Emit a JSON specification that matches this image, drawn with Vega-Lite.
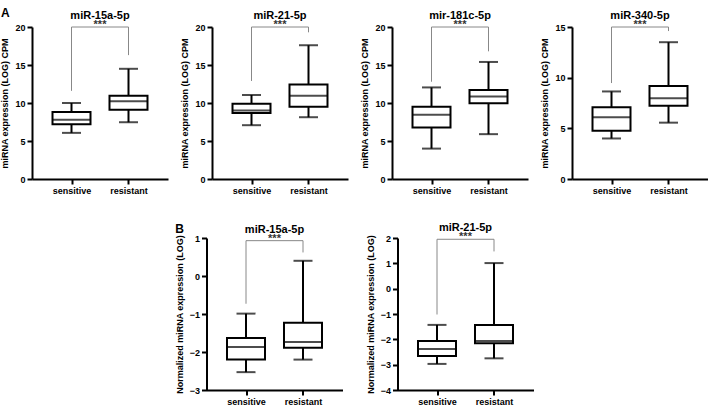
{
"$schema":"https://vega.github.io/schema/vega-lite/v6.json",
"padding":{"left":0,"top":7,"right":0,"bottom":2},
"datasets":{
"boxes":[
{"panel":"A1","group":"sensitive","min":6.07,"q1":7.2,"median":7.8,"q3":8.8,"max":10.0},
{"panel":"A1","group":"resistant","min":7.47,"q1":9.1,"median":10.24,"q3":10.95,"max":14.5},
{"panel":"A2","group":"sensitive","min":7.08,"q1":8.7,"median":9.0,"q3":9.9,"max":11.05},
{"panel":"A2","group":"resistant","min":8.13,"q1":9.5,"median":10.95,"q3":12.44,"max":17.6},
{"panel":"A3","group":"sensitive","min":4.0,"q1":6.77,"median":8.47,"q3":9.5,"max":12.05},
{"panel":"A3","group":"resistant","min":5.9,"q1":9.96,"median":10.87,"q3":11.7,"max":15.4},
{"panel":"A4","group":"sensitive","min":4.0,"q1":4.77,"median":6.09,"q3":7.09,"max":8.64},
{"panel":"A4","group":"resistant","min":5.56,"q1":7.22,"median":7.98,"q3":9.17,"max":13.5},
{"panel":"B1","group":"sensitive","min":-2.53,"q1":-2.2,"median":-1.87,"q3":-1.63,"max":-0.99},
{"panel":"B1","group":"resistant","min":-2.2,"q1":-1.89,"median":-1.74,"q3":-1.23,"max":0.4},
{"panel":"B2","group":"sensitive","min":-2.97,"q1":-2.66,"median":-2.38,"q3":-2.07,"max":-1.43},
{"panel":"B2","group":"resistant","min":-2.75,"q1":-2.15,"median":-2.07,"q3":-1.43,"max":1.01}
],
"brackets":[
{"panel":"A1","group":"sensitive","value":11.6,"step":1},{"panel":"A1","group":"sensitive","value":20,"step":2},{"panel":"A1","group":"resistant","value":20,"step":3},{"panel":"A1","group":"resistant","value":16.3,"step":4},
{"panel":"A2","group":"sensitive","value":12.9,"step":1},{"panel":"A2","group":"sensitive","value":20,"step":2},{"panel":"A2","group":"resistant","value":20,"step":3},{"panel":"A2","group":"resistant","value":19.3,"step":4},
{"panel":"A3","group":"sensitive","value":12.8,"step":1},{"panel":"A3","group":"sensitive","value":20,"step":2},{"panel":"A3","group":"resistant","value":20,"step":3},{"panel":"A3","group":"resistant","value":16.8,"step":4},
{"panel":"A4","group":"sensitive","value":9.47,"step":1},{"panel":"A4","group":"sensitive","value":15,"step":2},{"panel":"A4","group":"resistant","value":15,"step":3},{"panel":"A4","group":"resistant","value":14.6,"step":4},
{"panel":"B1","group":"sensitive","value":-0.73,"step":1},{"panel":"B1","group":"sensitive","value":0.93,"step":2},{"panel":"B1","group":"resistant","value":0.93,"step":3},{"panel":"B1","group":"resistant","value":0.62,"step":4},
{"panel":"B2","group":"sensitive","value":-1.02,"step":1},{"panel":"B2","group":"sensitive","value":1.95,"step":2},{"panel":"B2","group":"resistant","value":1.95,"step":3},{"panel":"B2","group":"resistant","value":1.47,"step":4}
],
"sig":[
{"panel":"A1","y":20,"label":"***"},{"panel":"A2","y":20,"label":"***"},{"panel":"A3","y":20,"label":"***"},{"panel":"A4","y":15,"label":"***"},{"panel":"B1","y":0.93,"label":"***"},{"panel":"B2","y":1.95,"label":"***"}
]
},
"vconcat":[
{"title":{"text":"A","anchor":"start","frame":"bounds","fontSize":12,"offset":-10},
"spacing":12,
"hconcat":[
{"width":136,"height":152,"title":"miR-15a-5p","layer":[
{"data":{"name":"boxes"},"transform":[{"filter":"datum.panel==='A1'"}],"mark":{"type":"rule","color":"black","strokeWidth":2},"encoding":{"x":{"field":"group","type":"nominal","sort":["sensitive","resistant"],"scale":{"type":"point","padding":0.693},"axis":{"title":null,"labelAngle":0}},"y":{"field":"min","type":"quantitative","scale":{"domain":[0,20],"nice":false},"axis":{"values":[0,5,10,15,20],"tickCount":10,"format":"d","title":"miRNA expression (LOG) CPM"}},"y2":{"field":"max"}}},
{"data":{"name":"boxes"},"transform":[{"filter":"datum.panel==='A1'"}],"mark":{"type":"tick","color":"black","thickness":2,"size":19},"encoding":{"x":{"field":"group","type":"nominal","sort":["sensitive","resistant"]},"y":{"field":"min","type":"quantitative"}}},
{"data":{"name":"boxes"},"transform":[{"filter":"datum.panel==='A1'"}],"mark":{"type":"tick","color":"black","thickness":2,"size":19},"encoding":{"x":{"field":"group","type":"nominal","sort":["sensitive","resistant"]},"y":{"field":"max","type":"quantitative"}}},
{"data":{"name":"boxes"},"transform":[{"filter":"datum.panel==='A1'"}],"mark":{"type":"bar","fill":"white","stroke":"black","strokeWidth":2,"size":38},"encoding":{"x":{"field":"group","type":"nominal","sort":["sensitive","resistant"]},"y":{"field":"q1","type":"quantitative"},"y2":{"field":"q3"}}},
{"data":{"name":"boxes"},"transform":[{"filter":"datum.panel==='A1'"}],"mark":{"type":"tick","color":"black","thickness":2,"size":38},"encoding":{"x":{"field":"group","type":"nominal","sort":["sensitive","resistant"]},"y":{"field":"median","type":"quantitative"}}},
{"data":{"name":"brackets"},"transform":[{"filter":"datum.panel==='A1'"}],"mark":{"type":"line","color":"#888888","strokeWidth":1},"encoding":{"x":{"field":"group","type":"nominal","sort":["sensitive","resistant"]},"y":{"field":"value","type":"quantitative"},"order":{"field":"step"}}},
{"data":{"name":"sig"},"transform":[{"filter":"datum.panel==='A1'"}],"mark":{"type":"text","baseline":"alphabetic","dy":1,"fontSize":11,"fontWeight":"bold","color":"#333333"},"encoding":{"y":{"field":"y","type":"quantitative"},"text":{"field":"label"}}}
]},
{"width":136,"height":152,"title":"miR-21-5p","layer":[
{"data":{"name":"boxes"},"transform":[{"filter":"datum.panel==='A2'"}],"mark":{"type":"rule","color":"black","strokeWidth":2},"encoding":{"x":{"field":"group","type":"nominal","sort":["sensitive","resistant"],"scale":{"type":"point","padding":0.693},"axis":{"title":null,"labelAngle":0}},"y":{"field":"min","type":"quantitative","scale":{"domain":[0,20],"nice":false},"axis":{"values":[0,5,10,15,20],"tickCount":10,"format":"d","title":"miRNA expression (LOG) CPM"}},"y2":{"field":"max"}}},
{"data":{"name":"boxes"},"transform":[{"filter":"datum.panel==='A2'"}],"mark":{"type":"tick","color":"black","thickness":2,"size":19},"encoding":{"x":{"field":"group","type":"nominal","sort":["sensitive","resistant"]},"y":{"field":"min","type":"quantitative"}}},
{"data":{"name":"boxes"},"transform":[{"filter":"datum.panel==='A2'"}],"mark":{"type":"tick","color":"black","thickness":2,"size":19},"encoding":{"x":{"field":"group","type":"nominal","sort":["sensitive","resistant"]},"y":{"field":"max","type":"quantitative"}}},
{"data":{"name":"boxes"},"transform":[{"filter":"datum.panel==='A2'"}],"mark":{"type":"bar","fill":"white","stroke":"black","strokeWidth":2,"size":38},"encoding":{"x":{"field":"group","type":"nominal","sort":["sensitive","resistant"]},"y":{"field":"q1","type":"quantitative"},"y2":{"field":"q3"}}},
{"data":{"name":"boxes"},"transform":[{"filter":"datum.panel==='A2'"}],"mark":{"type":"tick","color":"black","thickness":2,"size":38},"encoding":{"x":{"field":"group","type":"nominal","sort":["sensitive","resistant"]},"y":{"field":"median","type":"quantitative"}}},
{"data":{"name":"brackets"},"transform":[{"filter":"datum.panel==='A2'"}],"mark":{"type":"line","color":"#888888","strokeWidth":1},"encoding":{"x":{"field":"group","type":"nominal","sort":["sensitive","resistant"]},"y":{"field":"value","type":"quantitative"},"order":{"field":"step"}}},
{"data":{"name":"sig"},"transform":[{"filter":"datum.panel==='A2'"}],"mark":{"type":"text","baseline":"alphabetic","dy":1,"fontSize":11,"fontWeight":"bold","color":"#333333"},"encoding":{"y":{"field":"y","type":"quantitative"},"text":{"field":"label"}}}
]},
{"width":136,"height":152,"title":"mir-181c-5p","layer":[
{"data":{"name":"boxes"},"transform":[{"filter":"datum.panel==='A3'"}],"mark":{"type":"rule","color":"black","strokeWidth":2},"encoding":{"x":{"field":"group","type":"nominal","sort":["sensitive","resistant"],"scale":{"type":"point","padding":0.693},"axis":{"title":null,"labelAngle":0}},"y":{"field":"min","type":"quantitative","scale":{"domain":[0,20],"nice":false},"axis":{"values":[0,5,10,15,20],"tickCount":10,"format":"d","title":"miRNA expression (LOG) CPM"}},"y2":{"field":"max"}}},
{"data":{"name":"boxes"},"transform":[{"filter":"datum.panel==='A3'"}],"mark":{"type":"tick","color":"black","thickness":2,"size":19},"encoding":{"x":{"field":"group","type":"nominal","sort":["sensitive","resistant"]},"y":{"field":"min","type":"quantitative"}}},
{"data":{"name":"boxes"},"transform":[{"filter":"datum.panel==='A3'"}],"mark":{"type":"tick","color":"black","thickness":2,"size":19},"encoding":{"x":{"field":"group","type":"nominal","sort":["sensitive","resistant"]},"y":{"field":"max","type":"quantitative"}}},
{"data":{"name":"boxes"},"transform":[{"filter":"datum.panel==='A3'"}],"mark":{"type":"bar","fill":"white","stroke":"black","strokeWidth":2,"size":38},"encoding":{"x":{"field":"group","type":"nominal","sort":["sensitive","resistant"]},"y":{"field":"q1","type":"quantitative"},"y2":{"field":"q3"}}},
{"data":{"name":"boxes"},"transform":[{"filter":"datum.panel==='A3'"}],"mark":{"type":"tick","color":"black","thickness":2,"size":38},"encoding":{"x":{"field":"group","type":"nominal","sort":["sensitive","resistant"]},"y":{"field":"median","type":"quantitative"}}},
{"data":{"name":"brackets"},"transform":[{"filter":"datum.panel==='A3'"}],"mark":{"type":"line","color":"#888888","strokeWidth":1},"encoding":{"x":{"field":"group","type":"nominal","sort":["sensitive","resistant"]},"y":{"field":"value","type":"quantitative"},"order":{"field":"step"}}},
{"data":{"name":"sig"},"transform":[{"filter":"datum.panel==='A3'"}],"mark":{"type":"text","baseline":"alphabetic","dy":1,"fontSize":11,"fontWeight":"bold","color":"#333333"},"encoding":{"y":{"field":"y","type":"quantitative"},"text":{"field":"label"}}}
]},
{"width":136,"height":152,"title":"miR-340-5p","layer":[
{"data":{"name":"boxes"},"transform":[{"filter":"datum.panel==='A4'"}],"mark":{"type":"rule","color":"black","strokeWidth":2},"encoding":{"x":{"field":"group","type":"nominal","sort":["sensitive","resistant"],"scale":{"type":"point","padding":0.693},"axis":{"title":null,"labelAngle":0}},"y":{"field":"min","type":"quantitative","scale":{"domain":[0,15],"nice":false},"axis":{"values":[0,5,10,15],"tickCount":10,"format":"d","title":"miRNA expression (LOG) CPM"}},"y2":{"field":"max"}}},
{"data":{"name":"boxes"},"transform":[{"filter":"datum.panel==='A4'"}],"mark":{"type":"tick","color":"black","thickness":2,"size":19},"encoding":{"x":{"field":"group","type":"nominal","sort":["sensitive","resistant"]},"y":{"field":"min","type":"quantitative"}}},
{"data":{"name":"boxes"},"transform":[{"filter":"datum.panel==='A4'"}],"mark":{"type":"tick","color":"black","thickness":2,"size":19},"encoding":{"x":{"field":"group","type":"nominal","sort":["sensitive","resistant"]},"y":{"field":"max","type":"quantitative"}}},
{"data":{"name":"boxes"},"transform":[{"filter":"datum.panel==='A4'"}],"mark":{"type":"bar","fill":"white","stroke":"black","strokeWidth":2,"size":38},"encoding":{"x":{"field":"group","type":"nominal","sort":["sensitive","resistant"]},"y":{"field":"q1","type":"quantitative"},"y2":{"field":"q3"}}},
{"data":{"name":"boxes"},"transform":[{"filter":"datum.panel==='A4'"}],"mark":{"type":"tick","color":"black","thickness":2,"size":38},"encoding":{"x":{"field":"group","type":"nominal","sort":["sensitive","resistant"]},"y":{"field":"median","type":"quantitative"}}},
{"data":{"name":"brackets"},"transform":[{"filter":"datum.panel==='A4'"}],"mark":{"type":"line","color":"#888888","strokeWidth":1},"encoding":{"x":{"field":"group","type":"nominal","sort":["sensitive","resistant"]},"y":{"field":"value","type":"quantitative"},"order":{"field":"step"}}},
{"data":{"name":"sig"},"transform":[{"filter":"datum.panel==='A4'"}],"mark":{"type":"text","baseline":"alphabetic","dy":1,"fontSize":11,"fontWeight":"bold","color":"#333333"},"encoding":{"y":{"field":"y","type":"quantitative"},"text":{"field":"label"}}}
]}
]},
{"title":{"text":"B","anchor":"start","frame":"bounds","fontSize":12,"offset":-14},
"spacing":23,
"hconcat":[
{"width":136,"height":152,"title":"miR-15a-5p","layer":[
{"data":{"name":"boxes"},"transform":[{"filter":"datum.panel==='B1'"}],"mark":{"type":"rule","color":"black","strokeWidth":2},"encoding":{"x":{"field":"group","type":"nominal","sort":["sensitive","resistant"],"scale":{"type":"point","padding":0.693},"axis":{"title":null,"labelAngle":0}},"y":{"field":"min","type":"quantitative","scale":{"domain":[-3,1],"nice":false},"axis":{"values":[-3,-2,-1,0,1],"tickCount":10,"format":"d","title":"Normalized miRNA expression (LOG)"}},"y2":{"field":"max"}}},
{"data":{"name":"boxes"},"transform":[{"filter":"datum.panel==='B1'"}],"mark":{"type":"tick","color":"black","thickness":2,"size":19},"encoding":{"x":{"field":"group","type":"nominal","sort":["sensitive","resistant"]},"y":{"field":"min","type":"quantitative"}}},
{"data":{"name":"boxes"},"transform":[{"filter":"datum.panel==='B1'"}],"mark":{"type":"tick","color":"black","thickness":2,"size":19},"encoding":{"x":{"field":"group","type":"nominal","sort":["sensitive","resistant"]},"y":{"field":"max","type":"quantitative"}}},
{"data":{"name":"boxes"},"transform":[{"filter":"datum.panel==='B1'"}],"mark":{"type":"bar","fill":"white","stroke":"black","strokeWidth":2,"size":38},"encoding":{"x":{"field":"group","type":"nominal","sort":["sensitive","resistant"]},"y":{"field":"q1","type":"quantitative"},"y2":{"field":"q3"}}},
{"data":{"name":"boxes"},"transform":[{"filter":"datum.panel==='B1'"}],"mark":{"type":"tick","color":"black","thickness":2,"size":38},"encoding":{"x":{"field":"group","type":"nominal","sort":["sensitive","resistant"]},"y":{"field":"median","type":"quantitative"}}},
{"data":{"name":"brackets"},"transform":[{"filter":"datum.panel==='B1'"}],"mark":{"type":"line","color":"#888888","strokeWidth":1},"encoding":{"x":{"field":"group","type":"nominal","sort":["sensitive","resistant"]},"y":{"field":"value","type":"quantitative"},"order":{"field":"step"}}},
{"data":{"name":"sig"},"transform":[{"filter":"datum.panel==='B1'"}],"mark":{"type":"text","baseline":"alphabetic","dy":1,"fontSize":11,"fontWeight":"bold","color":"#333333"},"encoding":{"y":{"field":"y","type":"quantitative"},"text":{"field":"label"}}}
]},
{"width":136,"height":152,"title":"miR-21-5p","layer":[
{"data":{"name":"boxes"},"transform":[{"filter":"datum.panel==='B2'"}],"mark":{"type":"rule","color":"black","strokeWidth":2},"encoding":{"x":{"field":"group","type":"nominal","sort":["sensitive","resistant"],"scale":{"type":"point","padding":0.693},"axis":{"title":null,"labelAngle":0}},"y":{"field":"min","type":"quantitative","scale":{"domain":[-4,2],"nice":false},"axis":{"values":[-4,-3,-2,-1,0,1,2],"tickCount":10,"format":"d","title":"Normalized miRNA expression (LOG)"}},"y2":{"field":"max"}}},
{"data":{"name":"boxes"},"transform":[{"filter":"datum.panel==='B2'"}],"mark":{"type":"tick","color":"black","thickness":2,"size":19},"encoding":{"x":{"field":"group","type":"nominal","sort":["sensitive","resistant"]},"y":{"field":"min","type":"quantitative"}}},
{"data":{"name":"boxes"},"transform":[{"filter":"datum.panel==='B2'"}],"mark":{"type":"tick","color":"black","thickness":2,"size":19},"encoding":{"x":{"field":"group","type":"nominal","sort":["sensitive","resistant"]},"y":{"field":"max","type":"quantitative"}}},
{"data":{"name":"boxes"},"transform":[{"filter":"datum.panel==='B2'"}],"mark":{"type":"bar","fill":"white","stroke":"black","strokeWidth":2,"size":38},"encoding":{"x":{"field":"group","type":"nominal","sort":["sensitive","resistant"]},"y":{"field":"q1","type":"quantitative"},"y2":{"field":"q3"}}},
{"data":{"name":"boxes"},"transform":[{"filter":"datum.panel==='B2'"}],"mark":{"type":"tick","color":"black","thickness":2,"size":38},"encoding":{"x":{"field":"group","type":"nominal","sort":["sensitive","resistant"]},"y":{"field":"median","type":"quantitative"}}},
{"data":{"name":"brackets"},"transform":[{"filter":"datum.panel==='B2'"}],"mark":{"type":"line","color":"#888888","strokeWidth":1},"encoding":{"x":{"field":"group","type":"nominal","sort":["sensitive","resistant"]},"y":{"field":"value","type":"quantitative"},"order":{"field":"step"}}},
{"data":{"name":"sig"},"transform":[{"filter":"datum.panel==='B2'"}],"mark":{"type":"text","baseline":"alphabetic","dy":1,"fontSize":11,"fontWeight":"bold","color":"#333333"},"encoding":{"y":{"field":"y","type":"quantitative"},"text":{"field":"label"}}}
]}
]}
],
"spacing":27,
"center":true,
"config":{
"font":"Liberation Sans",
"view":{"stroke":null},
"axis":{"grid":false,"labelOverlap":false,"domainColor":"black","domainWidth":2,"tickColor":"black","tickWidth":2,"tickSize":5,"labelColor":"black","labelFont":"Liberation Sans","labelFontSize":9,"labelFontWeight":"bold","labelPadding":2,"titleColor":"black","titleFont":"Liberation Sans","titleFontSize":9,"titleFontWeight":"bold","titlePadding":5},
"title":{"font":"Liberation Sans","fontSize":11,"fontWeight":"bold","color":"black","offset":-2}
}
}
